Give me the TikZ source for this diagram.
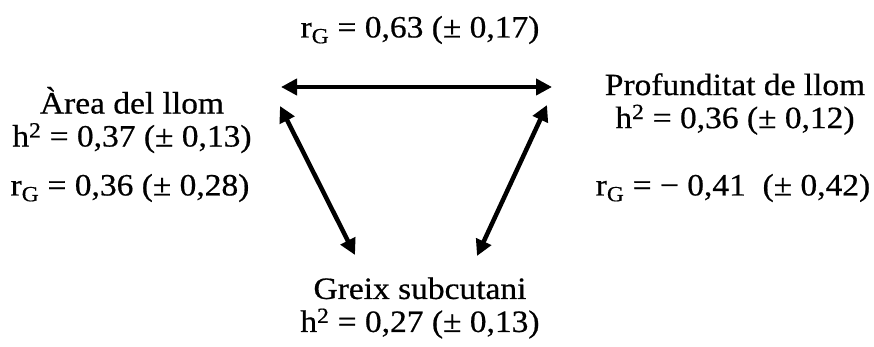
\documentclass[tikz,border=0pt]{standalone}
\usepackage{fontspec}
\setmainfont[FakeStretch=1.08,FakeBold=0.6]{Liberation Serif}
\usetikzlibrary{arrows.meta}
\begin{document}
\begin{tikzpicture}[x=1pt,y=-1pt,
  lbl/.style={inner sep=0pt,align=center,font=\fontsize{31}{33}\selectfont},
  dbl/.style={line width=4.5pt,{Triangle[length=16pt,width=16pt]}-{Triangle[length=16pt,width=16pt]}}]
\useasboundingbox (0,0) rectangle (874,347);
\node[lbl] (top) at (420,30) {r\textsubscript{G} = 0,63 (± 0,17)};
\node[lbl] (area) at (132,120) {Àrea del llom\\h\textsuperscript{2} = 0,37 (± 0,13)};
\node[lbl] (rgl) at (130,188) {r\textsubscript{G} = 0,36 (± 0,28)};
\node[lbl] (prof) at (735,104) {Profunditat de llom\\h\textsuperscript{2} = 0,36 (± 0,12)};
\node[lbl] (rgr) at (733,188) {r\textsubscript{G} = − 0,41 \ (± 0,42)};
\node[lbl] (greix) at (420,308) {Greix subcutani\\h\textsuperscript{2} = 0,27 (± 0,13)};
\coordinate (hA) at (281,87);
\coordinate (hB) at (552,87);
\coordinate (lA) at (280,106);
\coordinate (lB) at (355,255);
\coordinate (rA) at (547,105);
\coordinate (rB) at (477,256);
\draw[dbl] (hA) -- (hB);
\draw[dbl] (lA) -- (lB);
\draw[dbl] (rA) -- (rB);
\end{tikzpicture}
\end{document}
